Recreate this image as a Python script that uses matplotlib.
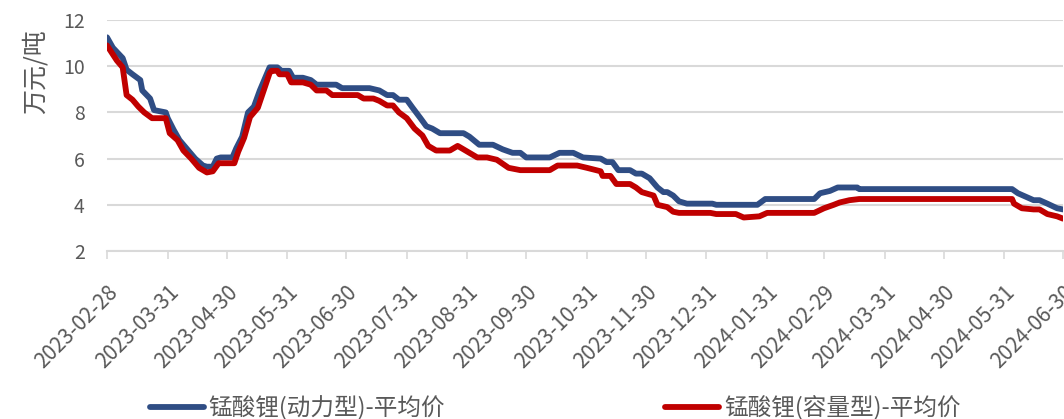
"""
Manganese lithium oxide average price, power type vs capacity type.
"""

import matplotlib
matplotlib.use("Agg")
import matplotlib.dates as mdates
import matplotlib.pyplot as plt
import pandas as pd

plt.rcParams["font.family"] = ["Noto Sans CJK SC", "DejaVu Sans"]

POWER_LABEL = "锰酸锂(动力型)-平均价"
CAPACITY_LABEL = "锰酸锂(容量型)-平均价"
Y_LABEL = "万元/吨"

power_dates = [
    "2023-02-28", "2023-03-03", "2023-03-08", "2023-03-10", "2023-03-13",
    "2023-03-17", "2023-03-18", "2023-03-22", "2023-03-24", "2023-03-30",
    "2023-03-31", "2023-04-03", "2023-04-06", "2023-04-10", "2023-04-14",
    "2023-04-18", "2023-04-20", "2023-04-23", "2023-04-25", "2023-04-27",
    "2023-05-03", "2023-05-05", "2023-05-08", "2023-05-11", "2023-05-14",
    "2023-05-17", "2023-05-21", "2023-05-22", "2023-05-26", "2023-05-28",
    "2023-06-01", "2023-06-03", "2023-06-08", "2023-06-12", "2023-06-15",
    "2023-06-25", "2023-06-28", "2023-07-12", "2023-07-17", "2023-07-21",
    "2023-07-24", "2023-07-27", "2023-07-31", "2023-08-03", "2023-08-07",
    "2023-08-10", "2023-08-13", "2023-08-17", "2023-08-29", "2023-09-01",
    "2023-09-06", "2023-09-13", "2023-09-18", "2023-09-23", "2023-09-27",
    "2023-09-30", "2023-10-12", "2023-10-17", "2023-10-24", "2023-10-29",
    "2023-11-07", "2023-11-10", "2023-11-13", "2023-11-16", "2023-11-22",
    "2023-11-25", "2023-11-28", "2023-12-02", "2023-12-06", "2023-12-09",
    "2023-12-11", "2023-12-14", "2023-12-17", "2023-12-21", "2024-01-03",
    "2024-01-05", "2024-01-26", "2024-01-30", "2024-02-24", "2024-02-27",
    "2024-03-03", "2024-03-07", "2024-03-17", "2024-03-18", "2024-06-04",
    "2024-06-07", "2024-06-11", "2024-06-15", "2024-06-18", "2024-06-22",
    "2024-06-27", "2024-06-30",
]
power_values = [
    11.25, 10.8, 10.35, 9.85, 9.65,
    9.4, 8.95, 8.6, 8.1, 8.0,
    7.75, 7.25, 6.8, 6.4, 6.0,
    5.7, 5.65, 5.65, 6.0, 6.05,
    6.05, 6.45, 6.95, 8.0, 8.25,
    8.95, 9.75, 9.95, 9.95, 9.8,
    9.8, 9.5, 9.5, 9.4, 9.2,
    9.2, 9.05, 9.05, 8.95, 8.75,
    8.75, 8.55, 8.55, 8.2, 7.75,
    7.4, 7.3, 7.1, 7.1, 6.95,
    6.6, 6.6, 6.4, 6.25, 6.25,
    6.05, 6.05, 6.25, 6.25, 6.05,
    6.0, 5.85, 5.85, 5.5, 5.5,
    5.35, 5.35, 5.15, 4.75, 4.55,
    4.55, 4.4, 4.15, 4.05, 4.05,
    4.0, 4.0, 4.25, 4.25, 4.5,
    4.6, 4.75, 4.75, 4.68, 4.68,
    4.5, 4.35, 4.2, 4.2, 4.05,
    3.85, 3.8,
]

capacity_dates = [
    "2023-02-28", "2023-03-05", "2023-03-08", "2023-03-10", "2023-03-13",
    "2023-03-16", "2023-03-19", "2023-03-23", "2023-03-30", "2023-04-01",
    "2023-04-05", "2023-04-08", "2023-04-12", "2023-04-16", "2023-04-20",
    "2023-04-23", "2023-04-26", "2023-05-04", "2023-05-06", "2023-05-09",
    "2023-05-12", "2023-05-16", "2023-05-19", "2023-05-22", "2023-05-23",
    "2023-05-26", "2023-05-27", "2023-05-31", "2023-06-02", "2023-06-08",
    "2023-06-12", "2023-06-15", "2023-06-20", "2023-06-23", "2023-07-06",
    "2023-07-09", "2023-07-14", "2023-07-17", "2023-07-21", "2023-07-24",
    "2023-07-27", "2023-07-31", "2023-08-04", "2023-08-08", "2023-08-11",
    "2023-08-15", "2023-08-22", "2023-08-26", "2023-08-31", "2023-09-05",
    "2023-09-10", "2023-09-15", "2023-09-21", "2023-09-27", "2023-10-12",
    "2023-10-16", "2023-10-26", "2023-10-31", "2023-11-07", "2023-11-08",
    "2023-11-12", "2023-11-15", "2023-11-22", "2023-11-25", "2023-11-28",
    "2023-12-04", "2023-12-06", "2023-12-11", "2023-12-14", "2023-12-17",
    "2024-01-02", "2024-01-05", "2024-01-15", "2024-01-19", "2024-01-27",
    "2024-01-31", "2024-02-24", "2024-02-29", "2024-03-05", "2024-03-08",
    "2024-03-13", "2024-03-18", "2024-06-04", "2024-06-05", "2024-06-09",
    "2024-06-15", "2024-06-18", "2024-06-22", "2024-06-27", "2024-06-30",
]
capacity_values = [
    10.9, 10.25, 9.95, 8.75, 8.55,
    8.25, 8.0, 7.75, 7.75, 7.1,
    6.8, 6.35, 6.0, 5.6, 5.4,
    5.45, 5.8, 5.8, 6.3, 6.9,
    7.8, 8.2, 8.95, 9.7, 9.8,
    9.8, 9.65, 9.65, 9.3, 9.3,
    9.2, 8.95, 8.95, 8.75, 8.75,
    8.6, 8.6, 8.5, 8.3, 8.3,
    8.0, 7.75, 7.3, 7.0, 6.55,
    6.35, 6.35, 6.55, 6.3, 6.05,
    6.05, 5.95, 5.6, 5.5, 5.5,
    5.7, 5.7, 5.6, 5.45, 5.25,
    5.25, 4.9, 4.9, 4.75, 4.55,
    4.4, 4.0, 3.9, 3.7, 3.65,
    3.65, 3.6, 3.6, 3.45, 3.5,
    3.65, 3.65, 3.85, 4.0, 4.1,
    4.2, 4.25, 4.25, 4.05, 3.85,
    3.8, 3.8, 3.6, 3.5, 3.4,
]

tick_dates = [
    "2023-02-28", "2023-03-31", "2023-04-30", "2023-05-31", "2023-06-30",
    "2023-07-31", "2023-08-31", "2023-09-30", "2023-10-31", "2023-11-30",
    "2023-12-31", "2024-01-31", "2024-02-29", "2024-03-31", "2024-04-30",
    "2024-05-31", "2024-06-30",
]
y_ticks = [2, 4, 6, 8, 10, 12]

BLUE = "#2F4D84"
RED = "#C00000"
GRID = "#D9D9D9"
TEXT = "#595959"


def main():
    fig = plt.figure(figsize=(10.64, 4.19), dpi=100)
    ax = fig.add_axes([107 / 1064, 1 - 251 / 419, 956 / 1064, 231 / 419])

    power_x = pd.to_datetime(power_dates)
    capacity_x = pd.to_datetime(capacity_dates)
    ticks = pd.to_datetime(tick_dates)

    ax.plot(power_x, power_values, color=BLUE, linewidth=4.2,
            solid_capstyle="round", solid_joinstyle="round", label=POWER_LABEL)
    ax.plot(capacity_x, capacity_values, color=RED, linewidth=4.2,
            solid_capstyle="round", solid_joinstyle="round", label=CAPACITY_LABEL)

    ax.set_xlim(ticks[0], ticks[-1])
    ax.set_ylim(2, 12)
    ax.set_yticks(y_ticks)
    ax.set_xticks(ticks)
    ax.xaxis.set_major_formatter(mdates.DateFormatter("%Y-%m-%d"))

    ax.grid(axis="y", color=GRID, linewidth=1.5)
    ax.set_axisbelow(True)
    for side in ["top", "right", "left"]:
        ax.spines[side].set_visible(False)
    ax.spines["bottom"].set_color(GRID)
    ax.spines["bottom"].set_linewidth(1.5)

    ax.tick_params(axis="y", length=0, pad=16, labelsize=14, labelcolor=TEXT)
    ax.tick_params(axis="x", length=6, width=1.2, color=GRID, pad=16,
                   labelsize=15, labelcolor=TEXT)
    for label in ax.get_xticklabels():
        label.set_rotation(45)
        label.set_ha("right")
        label.set_rotation_mode("anchor")

    fig.text(36 / 1064, 1 - 72 / 419, Y_LABEL, rotation=90, ha="center",
             va="center", fontsize=18, color=TEXT)

    legend = fig.legend(loc="center", bbox_to_anchor=(555 / 1064, 1 - 408 / 419),
                        ncol=2, frameon=False, fontsize=17, handlelength=2.3,
                        handletextpad=0.2, columnspacing=9.3)
    for text in legend.get_texts():
        text.set_color(TEXT)

    fig.savefig("out.png", dpi=100)
    plt.close(fig)


if __name__ == "__main__":
    main()
